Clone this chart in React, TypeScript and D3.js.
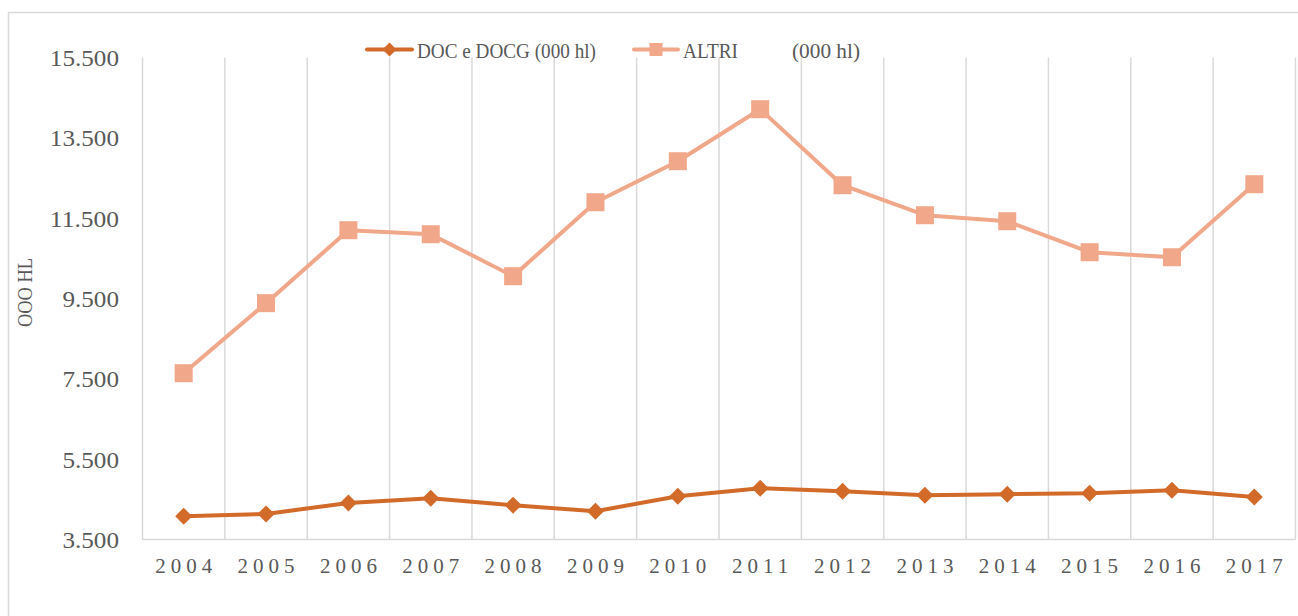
import React from "react";
import * as d3 from "d3";

const years = ["2004","2005","2006","2007","2008","2009","2010","2011","2012","2013","2014","2015","2016","2017"];
const docValues = [4080, 4137, 4411, 4528, 4354, 4205, 4578, 4777, 4702, 4603, 4628, 4653, 4727, 4560];
const altriValues = [7640, 9384, 11200, 11100, 10055, 11897, 12918, 14213, 12320, 11573, 11424, 10652, 10527, 12345];
const yTicks = [3500, 5500, 7500, 9500, 11500, 13500, 15500];
const seriesNames = ["DOC e DOCG (000 hl)", "ALTRI", "(000 hl)"];
const yLabel = "OOO HL";

const W = 1298, H = 616;
const left = 142.5, right = 1295.5, top = 57.5, bottom = 539.5;
const DOC_COLOR = "#D26A2A";
const ALTRI_COLOR = "#F1A88A";
const GRID = "#D9D9D9";
const TEXT = "#595959";
const FONT = "'Liberation Serif', serif";

export default function App() {
  const x = d3.scaleBand<string>().domain(years).range([left, right]).padding(0);
  const y = d3.scaleLinear().domain([3500, 15500]).range([bottom, top]);
  const cx = (yr: string) => (x(yr) as number) + x.bandwidth() / 2;
  const line = d3.line<number>().x((_, i) => cx(years[i])).y((v) => y(v));
  const boundaries = years.map((yr) => x(yr) as number).concat([right]);
  const fmt = (t: number) => d3.format(",")(t).replace(",", ".");

  const diamond = (px: number, py: number, r: number) =>
    `M${px},${py - r}L${px + r},${py}L${px},${py + r}L${px - r},${py}Z`;

  const tickFs = 23.5;

  return (
    <svg width={W} height={H} style={{ position: "absolute", left: 0, top: 0, background: "#fff" }}>
      <rect x={8.5} y={12.5} width={W} height={H} fill="#fff" stroke={GRID} strokeWidth={1.5} />
      {boundaries.map((bx, i) => (
        <line key={i} x1={bx} x2={bx} y1={top} y2={bottom} stroke={GRID} strokeWidth={1.5} />
      ))}
      <line x1={left} x2={right} y1={bottom} y2={bottom} stroke={GRID} strokeWidth={1.5} />
      {yTicks.map((t) => {
        const s = fmt(t);
        const natural = ((s.length - 1) * 0.5 + 0.25) * tickFs;
        return (
          <text key={t} x={119} y={y(t) + 8.5} textAnchor="end" fontFamily={FONT} fontSize={tickFs} fill={TEXT}
            textLength={natural * 1.07} lengthAdjust="spacingAndGlyphs">
            {s}
          </text>
        );
      })}
      {years.map((yr) => (
        <text key={yr} x={cx(yr) + 2.5} y={573} textAnchor="middle" fontFamily={FONT} fontSize={21} letterSpacing={5} fill={TEXT}>
          {yr}
        </text>
      ))}
      <text transform={`translate(32,${(top + bottom) / 2 - 6}) rotate(-90)`} textAnchor="middle" fontFamily={FONT} fontSize={20.5} fill={TEXT}
        textLength={69} lengthAdjust="spacingAndGlyphs">
        {yLabel}
      </text>

      <path d={line(altriValues) || ""} fill="none" stroke={ALTRI_COLOR} strokeWidth={4} strokeLinejoin="round" />
      {altriValues.map((v, i) => (
        <rect key={i} x={cx(years[i]) - 9} y={y(v) - 9} width={18} height={18} fill={ALTRI_COLOR} />
      ))}
      <path d={line(docValues) || ""} fill="none" stroke={DOC_COLOR} strokeWidth={4} strokeLinejoin="round" />
      {docValues.map((v, i) => (
        <path key={i} d={diamond(cx(years[i]), y(v), 8.5)} fill={DOC_COLOR} />
      ))}

      {/* legend */}
      <line x1={367} x2={412} y1={49.5} y2={49.5} stroke={DOC_COLOR} strokeWidth={4} strokeLinecap="round" />
      <path d={diamond(389.5, 49.5, 7)} fill={DOC_COLOR} />
      <text x={417} y={57.5} fontFamily={FONT} fontSize={22} fill={TEXT} textLength={179} lengthAdjust="spacingAndGlyphs">{seriesNames[0]}</text>
      <line x1={634} x2={678} y1={49.5} y2={49.5} stroke={ALTRI_COLOR} strokeWidth={4} strokeLinecap="round" />
      <rect x={649.5} y={43} width={13} height={13} fill={ALTRI_COLOR} />
      <text x={683} y={57.5} fontFamily={FONT} fontSize={22} fill={TEXT} textLength={55} lengthAdjust="spacingAndGlyphs">{seriesNames[1]}</text>
      <text x={792} y={57.5} fontFamily={FONT} fontSize={22} fill={TEXT} textLength={68} lengthAdjust="spacingAndGlyphs">{seriesNames[2]}</text>
    </svg>
  );
}
